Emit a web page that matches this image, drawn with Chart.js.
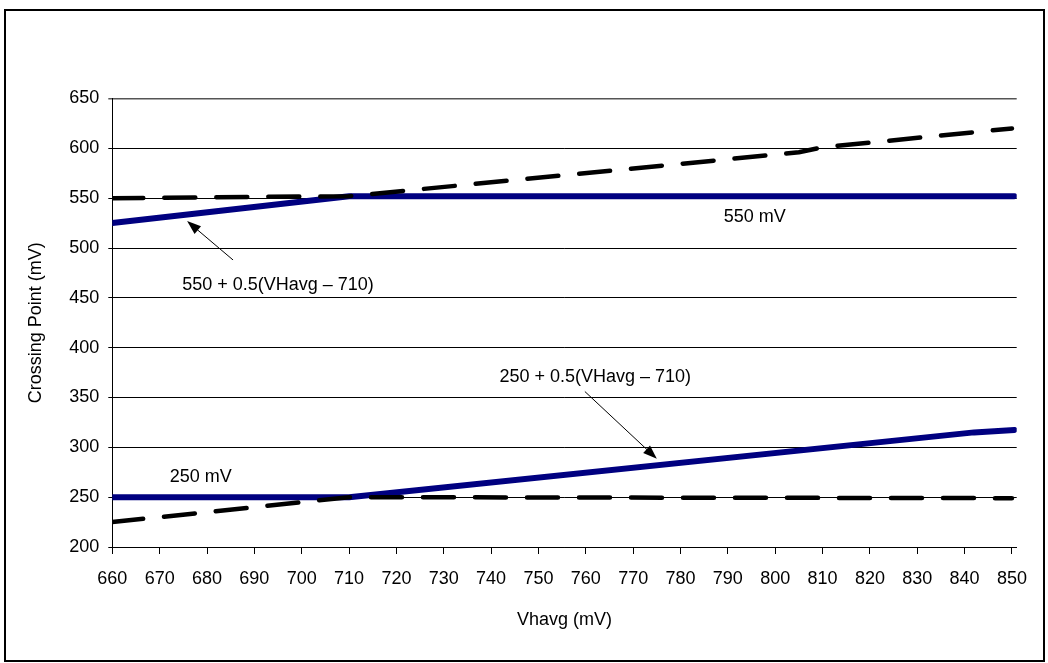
<!DOCTYPE html>
<html>
<head>
<meta charset="utf-8">
<script src="https://cdn.jsdelivr.net/npm/chart.js@4/dist/chart.umd.min.js"></script>
<style>
  body { margin: 0; background: #fff; }
  #wrap { position: relative; width: 1048px; height: 663px; }
</style>
</head>
<body>
<div id="wrap"><canvas id="crossChart" width="1048" height="663"></canvas></div>
<script>
// Chart values
const xTicks = [660, 670, 680, 690, 700, 710, 720, 730, 740, 750, 760, 770, 780, 790, 800, 810, 820, 830, 840, 850];
const yTicks = [200, 250, 300, 350, 400, 450, 500, 550, 600, 650];

// upper spec line (solid) and measured upper (dashed)
const upperSpecX = [660, 710, 850.5];
const upperSpecY = [525, 552, 552];
const upperMeasX = [660, 710, 805, 810, 850];
const upperMeasY = [550, 552, 596, 601, 620];

// lower spec line (solid) and measured lower (dashed)
const lowerSpecX = [660, 710, 842, 850.5];
const lowerSpecY = [250, 250, 315, 317.5];
const lowerMeasX = [660, 710, 850];
const lowerMeasY = [225, 250, 249];

const FONT = 'Liberation Sans, Arial, sans-serif';

function toPoints(xs, ys) {
    return xs.map((x, i) => ({ x: x, y: ys[i] }));
}

// Outer frame, annotation texts and arrows
const annotationPlugin = {
    id: 'annotations',
    beforeDraw(chart) {
        const ctx = chart.ctx;
        ctx.save();
        ctx.fillStyle = '#fff';
        ctx.fillRect(0, 0, chart.width, chart.height);
        ctx.strokeStyle = '#000';
        ctx.lineWidth = 2;
        ctx.strokeRect(5, 10, 1039, 651);
        ctx.restore();
    },
    afterDatasetsDraw(chart) {
        const ctx = chart.ctx;
        const xs = chart.scales.x;
        const ys = chart.scales.y;
        const px = v => xs.getPixelForValue(v);
        const py = v => ys.getPixelForValue(v);

        ctx.save();
        ctx.fillStyle = '#000';
        ctx.font = '18px ' + FONT;
        ctx.textAlign = 'center';
        ctx.textBaseline = 'middle';
        ctx.fillText('550 + 0.5(VHavg \u2013 710)', px(695), py(463));
        ctx.fillText('250 + 0.5(VHavg \u2013 710)', px(762), py(371));
        ctx.fillText('550 mV', px(795.7), py(531));
        ctx.fillText('250 mV', px(678.7), py(270));

        drawArrow(ctx, px(685.5), py(488), px(675.8), py(527));
        drawArrow(ctx, px(759.8), py(356), px(775), py(288.5));
        ctx.restore();
    }
};

function drawArrow(ctx, x1, y1, x2, y2) {
    const ang = Math.atan2(y2 - y1, x2 - x1);
    const len = 14, half = 5;
    ctx.strokeStyle = '#000';
    ctx.lineWidth = 1;
    ctx.beginPath();
    ctx.moveTo(x1, y1);
    ctx.lineTo(x2 - Math.cos(ang) * len * 0.8, y2 - Math.sin(ang) * len * 0.8);
    ctx.stroke();
    ctx.beginPath();
    ctx.moveTo(x2, y2);
    ctx.lineTo(x2 - Math.cos(ang) * len - Math.sin(ang) * half, y2 - Math.sin(ang) * len + Math.cos(ang) * half);
    ctx.lineTo(x2 - Math.cos(ang) * len + Math.sin(ang) * half, y2 - Math.sin(ang) * len - Math.cos(ang) * half);
    ctx.closePath();
    ctx.fill();
}

const solidStyle = {
    showLine: true,
    borderColor: '#000080',
    borderWidth: 6,
    borderCapStyle: 'round',
    borderJoinStyle: 'round',
    pointRadius: 0,
    tension: 0,
    fill: false
};
const dashStyle = {
    showLine: true,
    borderColor: '#000',
    borderWidth: 4.5,
    borderDash: [31, 21],
    borderCapStyle: 'round',
    borderJoinStyle: 'round',
    pointRadius: 0,
    tension: 0,
    fill: false
};

new Chart(document.getElementById('crossChart'), {
    type: 'scatter',
    data: {
        datasets: [
            Object.assign({ label: 'Upper measured', data: toPoints(upperMeasX, upperMeasY), order: 1 }, dashStyle),
            Object.assign({ label: 'Lower measured', data: toPoints(lowerMeasX, lowerMeasY), order: 1 }, dashStyle),
            Object.assign({ label: 'Upper spec', data: toPoints(upperSpecX, upperSpecY), order: 2 }, solidStyle),
            Object.assign({ label: 'Lower spec', data: toPoints(lowerSpecX, lowerSpecY), order: 2 }, solidStyle)
        ]
    },
    options: {
        responsive: false,
        animation: false,
        layout: {
            padding: { left: 0, top: 98.5, right: 31.3, bottom: 0 }
        },
        scales: {
            x: {
                type: 'linear',
                min: 660,
                max: 851,
                afterFit: function(scale) { scale.height = 116; },
                afterBuildTicks: function(scale) {
                    scale.ticks = xTicks.map(v => ({ value: v }));
                },
                grid: {
                    drawOnChartArea: false,
                    drawTicks: true,
                    tickLength: 7,
                    color: '#000'
                },
                border: { display: true, color: '#000', width: 1 },
                ticks: {
                    color: '#000',
                    padding: 14,
                    maxRotation: 0,
                    autoSkip: false,
                    font: { family: FONT, size: 18 }
                },
                title: {
                    display: true,
                    text: 'Vhavg (mV)',
                    color: '#000',
                    padding: { top: 0, bottom: 32 },
                    font: { family: FONT, size: 18 }
                }
            },
            y: {
                type: 'linear',
                min: 200,
                max: 650,
                afterFit: function(scale) { scale.width = 112.3; },
                afterBuildTicks: function(scale) {
                    scale.ticks = yTicks.map(v => ({ value: v }));
                },
                grid: {
                    drawTicks: true,
                    tickLength: 4,
                    color: function(c) {
                        return c.tick && c.tick.value === 650 ? '#555' : '#000';
                    },
                    lineWidth: function(c) {
                        return c.tick && c.tick.value === 650 ? 1.5 : 1;
                    }
                },
                border: { display: true, color: '#000', width: 1 },
                ticks: {
                    color: '#000',
                    padding: 9,
                    font: { family: FONT, size: 18 }
                },
                title: {
                    display: true,
                    text: 'Crossing Point (mV)',
                    color: '#000',
                    padding: { top: 25, bottom: 0 },
                    font: { family: FONT, size: 18 }
                }
            }
        },
        plugins: {
            legend: { display: false },
            tooltip: { enabled: false }
        }
    },
    plugins: [annotationPlugin]
});
</script>
</body>
</html>
